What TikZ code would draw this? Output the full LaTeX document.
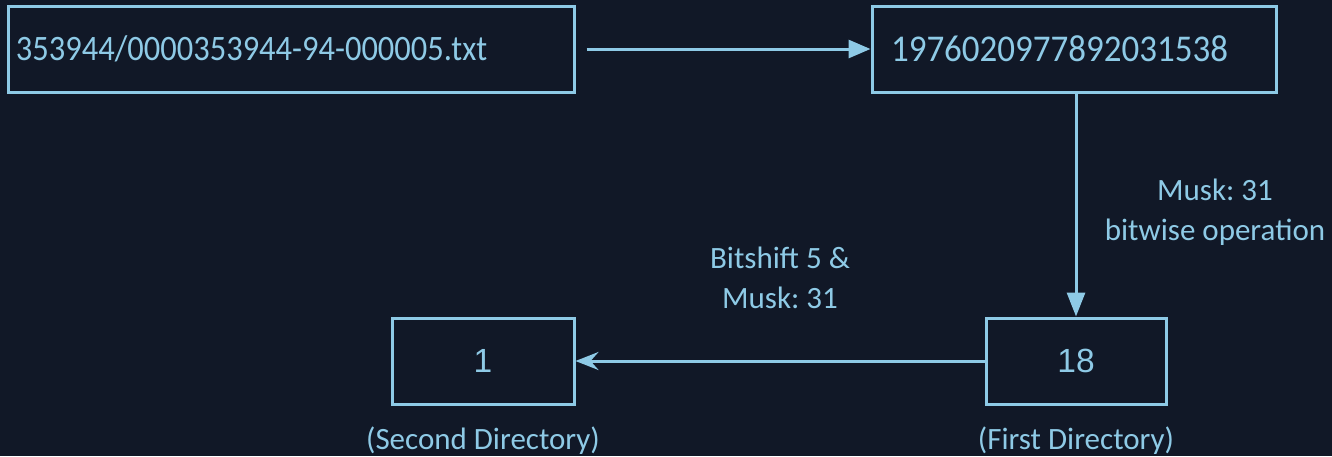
\documentclass[tikz,border=0pt]{standalone}
\usepackage{fontspec}
\setmainfont{Carlito}
\newfontfamily\arialf{Liberation Sans}
\usetikzlibrary{arrows.meta}
\definecolor{bgc}{HTML}{111827}
\definecolor{fg}{HTML}{8ECAE6}
\frenchspacing
\begin{document}
\begin{tikzpicture}[x=1pt,y=-1pt,
  box/.style={draw=fg,line width=3pt,rectangle,inner sep=0pt,text=fg},
  lbl/.style={text=fg,align=center,font=\frenchspacing\fontsize{31}{40}\selectfont,inner sep=0pt},
  conn/.style={draw=fg,line width=3pt}]
\fill[bgc] (0,0) rectangle (1332,456);
\useasboundingbox (0,0) rectangle (1332,456);
\node[box,minimum width=566pt,minimum height=86pt,text width=550pt,align=left,font=\fontsize{32.5}{38}\selectfont] (a) at (291,49) {\scalebox{1}[1.1]{353944/0000353944-94-000005.txt}};
\node[box,minimum width=404pt,minimum height=86pt,text width=366pt,align=left,font=\fontsize{35}{40}\selectfont] (b) at (1074,49) {\scalebox{1}[1.08]{1976020977892031538}};
\node[box,minimum width=180pt,minimum height=86pt,font=\arialf\fontsize{33.5}{40}\selectfont] (c) at (1076,361) {18};
\node[box,minimum width=182pt,minimum height=86pt,font=\arialf\fontsize{33.5}{40}\selectfont] (d) at (483,361) {1};
\draw[conn,-{Triangle[length=22pt,width=18pt]},shorten <=11pt] (a.east) -- (b.west);
\draw[conn,-{Triangle[length=24pt,width=18pt]}] (b.south -| c.north) -- (c.north);
\draw[conn,-{Stealth[length=23pt,width=18pt,inset=8pt]}] (c.west) -- (d.east);
\node[lbl] (l1) at (1215,212) {Musk: 31\\bitwise operation};
\node[lbl] (l2) at (780,278) {Bitshift 5 \&\\Musk: 31};
\node[lbl] (l3) at (483,441) {(Second Directory)};
\node[lbl] (l4) at (1076,441) {(First Directory)};
\end{tikzpicture}
\end{document}
